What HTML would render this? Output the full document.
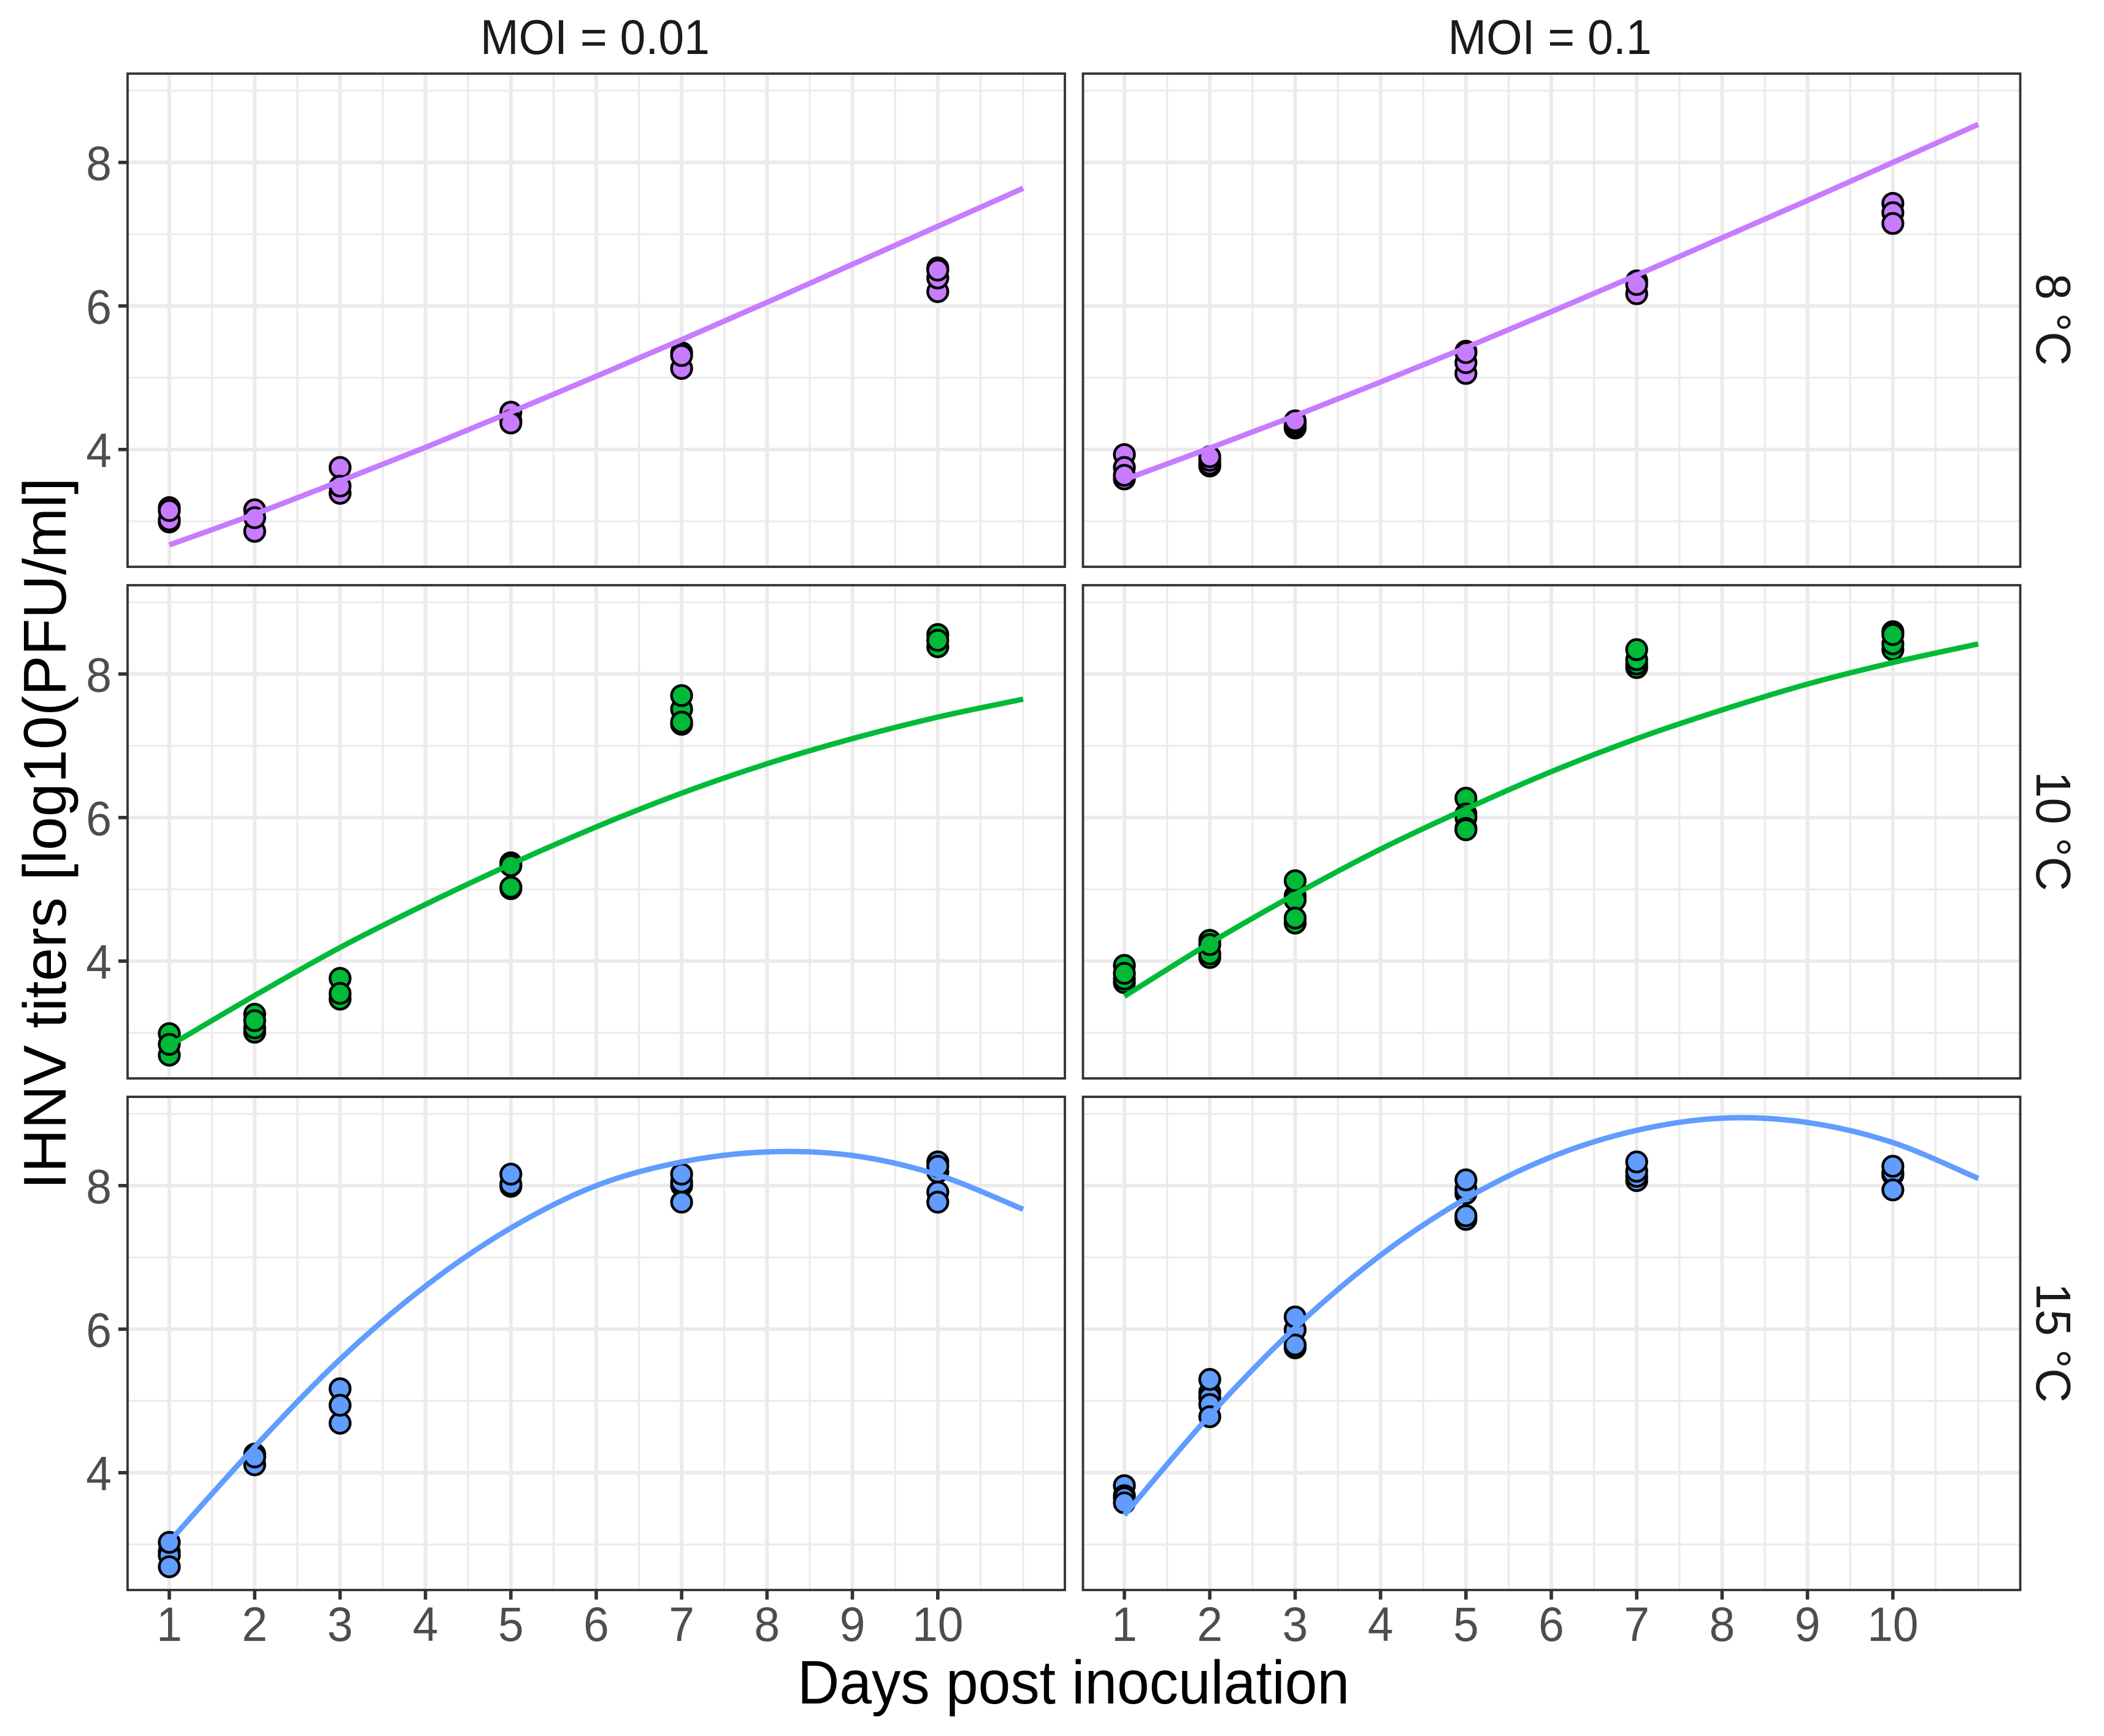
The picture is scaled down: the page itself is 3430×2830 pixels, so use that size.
<!DOCTYPE html>
<html lang="en">
<head>
<meta charset="utf-8">
<title>IHNV titers by day, MOI and temperature</title>
<style>
html,body{margin:0;padding:0;background:#fff;}
svg{display:block;}
text{font-family:"Liberation Sans",Arial,sans-serif;}
</style>
</head>
<body>
<svg id="chart" xmlns="http://www.w3.org/2000/svg" width="3430" height="2830" viewBox="0 0 3430 2830">
  <rect x="0" y="0" width="3430" height="2830" fill="#ffffff"/>
  <g id="panels"></g>
  <g id="axes"></g>
  <text x="970" y="88" font-size="80" fill="#1A1A1A" text-anchor="middle" textLength="374" lengthAdjust="spacingAndGlyphs">MOI = 0.01</text>
  <text x="2526.5" y="88" font-size="80" fill="#1A1A1A" text-anchor="middle" textLength="332" lengthAdjust="spacingAndGlyphs">MOI = 0.1</text>
  <text transform="translate(3320 521) rotate(90)" font-size="80" fill="#1A1A1A" text-anchor="middle" textLength="150" lengthAdjust="spacingAndGlyphs">8 °C</text>
  <text transform="translate(3320 1355) rotate(90)" font-size="80" fill="#1A1A1A" text-anchor="middle" textLength="195" lengthAdjust="spacingAndGlyphs">10 °C</text>
  <text transform="translate(3320 2189) rotate(90)" font-size="80" fill="#1A1A1A" text-anchor="middle" textLength="195" lengthAdjust="spacingAndGlyphs">15 °C</text>
  <text x="1750" y="2777" font-size="100" fill="#000000" text-anchor="middle" textLength="900" lengthAdjust="spacingAndGlyphs">Days post inoculation</text>
  <text transform="translate(107 1939) rotate(-90)" font-size="98.5" fill="#000000" text-anchor="start">IHNV titers [log10(PFU/ml]</text>
</svg>
<script>
// ---- axis breaks and tick labels ----
var xTickLabels = [1, 2, 3, 4, 5, 6, 7, 8, 9, 10];
var xMinorBreaks = [1.5, 2.5, 3.5, 4.5, 5.5, 6.5, 7.5, 8.5, 9.5, 10.5, 11];
var yTickLabels = [4, 6, 8];
var yMinorBreaks = [3, 5, 7, 9];

// ---- sampling days ----
var sampleDays = [1, 2, 3, 5, 7, 10];
var fitDays = [1, 2, 3, 4, 5, 6, 7, 8, 9, 10, 11];

// ---- observed titers (one inner array per sampling day, in draw order) ----
var points_moi001_8c = [[2.99, 3.02, 3.19, 3.15], [2.86, 3.16, 3.05], [3.75, 3.39, 3.49], [4.52, 4.40, 4.37], [5.13, 5.35, 5.31], [6.20, 6.39, 6.53, 6.50]];
var points_moi01_8c = [[3.93, 3.75, 3.59, 3.64], [3.77, 3.80, 3.85, 3.90], [4.30, 4.33, 4.37, 4.40], [5.06, 5.21, 5.37, 5.35], [6.17, 6.35, 6.30], [7.43, 7.30, 7.15]];
var points_moi001_10c = [[2.99, 2.69, 2.84], [3.26, 3.01, 3.07, 3.17], [3.76, 3.47, 3.55], [5.37, 5.33, 5.01, 5.03], [7.51, 7.30, 7.33, 7.70], [8.55, 8.38, 8.47]];
var points_moi01_10c = [[3.94, 3.70, 3.75, 3.83], [4.29, 4.05, 4.10, 4.23], [4.53, 4.91, 4.85, 5.12, 4.60], [6.27, 6.05, 6.00, 5.85, 5.83], [8.09, 8.14, 8.20, 8.34], [8.34, 8.42, 8.59, 8.55]];
var points_moi001_15c = [[2.90, 2.85, 2.69, 3.03], [4.11, 4.26, 4.22], [4.69, 5.17, 4.94], [7.99, 8.02, 8.16], [8.00, 8.05, 7.77, 8.16], [8.33, 8.19, 7.91, 8.27, 7.77]];
var points_moi01_15c = [[3.82, 3.68, 3.65, 3.58], [5.12, 5.05, 4.95, 5.30, 4.78], [5.74, 5.99, 6.17, 5.78], [7.53, 7.89, 7.95, 8.08, 7.58], [8.07, 8.13, 8.20, 8.33], [8.15, 8.18, 7.94, 8.27]];

// ---- fitted curves (value read at each of fitDays) ----
var fit_moi001_8c = [2.67, 3.10, 3.56, 4.03, 4.52, 5.02, 5.53, 6.05, 6.58, 7.11, 7.64];
var fit_moi01_8c = [3.58, 4.02, 4.47, 4.94, 5.42, 5.92, 6.43, 6.95, 7.47, 8.00, 8.53];
var fit_moi001_10c = [2.82, 3.52, 4.19, 4.79, 5.35, 5.87, 6.34, 6.75, 7.10, 7.40, 7.65];
var fit_moi01_10c = [3.51, 4.25, 4.93, 5.56, 6.12, 6.64, 7.10, 7.50, 7.86, 8.16, 8.42];
var fit_moi001_15c = [3.04, 4.36, 5.58, 6.60, 7.41, 8.00, 8.33, 8.47, 8.42, 8.15, 7.67];
var fit_moi01_15c = [3.41, 4.80, 6.02, 7.03, 7.82, 8.40, 8.77, 8.94, 8.88, 8.60, 8.10];

// ---- layout (not data) ----
var SVGNS = 'http://www.w3.org/2000/svg';
var colLeft = [208, 1765.5];
var colFirstDay = [276, 1833];
var colWidth = 1528;
var rowTop = [120, 954, 1788];
var rowHeight = 804;
var dayPx = 139.2;
var unitPx = 117;
var y8Offset = 144.8;
var rowColors = ['#C77CFF', '#00BA38', '#619CFF'];
var panelNames = [['moi-0.01-8c', 'moi-0.1-8c'], ['moi-0.01-10c', 'moi-0.1-10c'], ['moi-0.01-15c', 'moi-0.1-15c']];
var panelPoints = [[points_moi001_8c, points_moi01_8c], [points_moi001_10c, points_moi01_10c], [points_moi001_15c, points_moi01_15c]];
var panelFits = [[fit_moi001_8c, fit_moi01_8c], [fit_moi001_10c, fit_moi01_10c], [fit_moi001_15c, fit_moi01_15c]];

function xScale(col, day) { return colFirstDay[col] + (day - 1) * dayPx; }
function yScale(row, v) { return rowTop[row] + y8Offset + (8 - v) * unitPx; }

function make(tag, attrs, parent) {
  var el = document.createElementNS(SVGNS, tag);
  for (var k in attrs) { el.setAttribute(k, attrs[k]); }
  parent.appendChild(el);
  return el;
}

function smoothPath(pts) {
  var d = 'M' + pts[0][0].toFixed(2) + ' ' + pts[0][1].toFixed(2);
  for (var i = 0; i < pts.length - 1; i++) {
    var p0 = pts[Math.max(i - 1, 0)], p1 = pts[i], p2 = pts[i + 1], p3 = pts[Math.min(i + 2, pts.length - 1)];
    var c1x = p1[0] + (p2[0] - p0[0]) / 6, c1y = p1[1] + (p2[1] - p0[1]) / 6;
    var c2x = p2[0] - (p3[0] - p1[0]) / 6, c2y = p2[1] - (p3[1] - p1[1]) / 6;
    d += 'C' + c1x.toFixed(2) + ' ' + c1y.toFixed(2) + ' ' + c2x.toFixed(2) + ' ' + c2y.toFixed(2) + ' ' + p2[0].toFixed(2) + ' ' + p2[1].toFixed(2);
  }
  return d;
}

var panelsRoot = document.getElementById('panels');
var axesRoot = document.getElementById('axes');

function drawPanel(r, c) {
  var panel = make('g', {}, panelsRoot);
  
  

  var panelLeft = colLeft[c], panelTop = rowTop[r], panelRight = panelLeft + colWidth, panelBottom = panelTop + rowHeight;

  yMinorBreaks.forEach(function (v) {
    var ln = make('line', { x1: panelLeft, x2: panelRight, y1: yScale(r, v), y2: yScale(r, v), stroke: '#EBEBEB', 'stroke-width': 3.2 }, panel);
    
    
  });
  xMinorBreaks.forEach(function (d) {
    var ln = make('line', { x1: xScale(c, d), x2: xScale(c, d), y1: panelTop, y2: panelBottom, stroke: '#EBEBEB', 'stroke-width': 3.2 }, panel);
    
    
  });
  yTickLabels.forEach(function (v) {
    var ln = make('line', { x1: panelLeft, x2: panelRight, y1: yScale(r, v), y2: yScale(r, v), stroke: '#EBEBEB', 'stroke-width': 6 }, panel);
    
    
  });
  xTickLabels.forEach(function (d) {
    var ln = make('line', { x1: xScale(c, d), x2: xScale(c, d), y1: panelTop, y2: panelBottom, stroke: '#EBEBEB', 'stroke-width': 6 }, panel);
    
    
  });

  var series = panelPoints[r][c];
  for (var s = 0; s < sampleDays.length; s++) {
    for (var k = 0; k < series[s].length; k++) {
      var dot = make('circle', { cx: xScale(c, sampleDays[s]), cy: yScale(r, series[s][k]), r: 16.4, fill: rowColors[r], stroke: '#000000', 'stroke-width': 4.5 }, panel);
      
      
    }
  }

  var fit = panelFits[r][c];
  var fitPts = [];
  for (var f = 0; f < fitDays.length; f++) {
    fitPts.push([xScale(c, fitDays[f]), yScale(r, fit[f])]);
  }
  var curve = make('path', { d: smoothPath(fitPts), fill: 'none', stroke: rowColors[r], 'stroke-width': 8.8, 'stroke-linecap': 'butt', 'stroke-linejoin': 'round' }, panel);
  
  

  var border = make('rect', { x: panelLeft, y: panelTop, width: colWidth, height: rowHeight, fill: 'none', stroke: '#333333', 'stroke-width': 3.8 }, panel);
  
  
}

for (var r = 0; r < 3; r++) {
  for (var c = 0; c < 2; c++) {
    drawPanel(r, c);
  }
}

// y axis ticks and labels (left column only)
for (var yr = 0; yr < 3; yr++) {
  yTickLabels.forEach(function (v) {
    var py = yScale(yr, v);
    var tick = make('line', { x1: 193, x2: 208, y1: py, y2: py, stroke: '#333333', 'stroke-width': 5.6 }, axesRoot);
    
    
    var lab = make('text', { x: 182, y: py + 28.9, 'font-size': 79, fill: '#4D4D4D', 'text-anchor': 'end', textLength: 41.7, lengthAdjust: 'spacingAndGlyphs' }, axesRoot);
    lab.textContent = String(v);
    
    
  });
}

// x axis ticks and labels (bottom row only)
for (var xc = 0; xc < 2; xc++) {
  xTickLabels.forEach(function (d) {
    var px = xScale(xc, d);
    var tick = make('line', { x1: px, x2: px, y1: 2592, y2: 2607.6, stroke: '#333333', 'stroke-width': 5.6 }, axesRoot);
    
    
    var lab = make('text', { x: px, y: 2675, 'font-size': 79, fill: '#4D4D4D', 'text-anchor': 'middle', textLength: 41.7 * String(d).length, lengthAdjust: 'spacingAndGlyphs' }, axesRoot);
    lab.textContent = String(d);
    
    
  });
}
</script>
</body>
</html>
